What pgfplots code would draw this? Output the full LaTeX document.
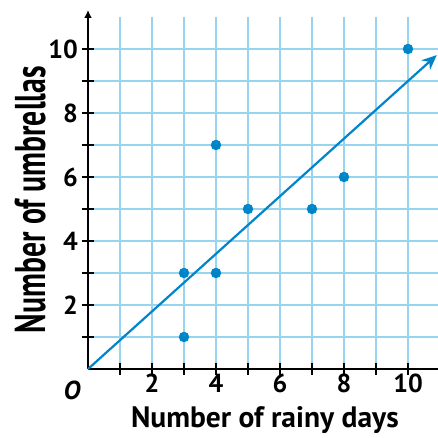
\documentclass[border=0pt]{standalone}
\usepackage{fontspec}
\setmainfont{PT Sans}
\usepackage{graphicx}
\usepackage{pgfplots}
\pgfplotsset{compat=1.18}
\usetikzlibrary{arrows.meta}
\definecolor{gridblue}{RGB}{150,212,240}
\definecolor{ptblue}{RGB}{0,133,202}
\begin{document}
\begin{tikzpicture}
\begin{axis}[
  x=32pt, y=32pt,
  xmin=0, xmax=10.95, ymin=0, ymax=11,
  axis x line*=bottom, axis y line*=left,
  x axis line style={-, line width=2pt},
  y axis line style={-{Latex[length=8pt,width=8pt]}, line width=2pt, shorten >=-7pt},
  xtick={1,...,10}, ytick={1,...,10},
  xticklabels={,2,,4,,6,,8,,10},
  yticklabels={,2,,4,,6,,8,,10},
  grid=major, major grid style={gridblue, line width=1.3pt},
  tick align=center, major tick length=12pt,
  tick style={black, line width=1.3pt},
  /pgf/number format/assume math mode=true,
  xticklabel style={font=\fontsize{26}{26}\selectfont\bfseries, inner sep=0pt, text height=0.68em, text depth=0pt, yshift=-10pt},
  yticklabel style={font=\fontsize{26}{26}\selectfont\bfseries, inner sep=1pt, xshift=-3pt},
  xlabel={Number of rainy days},
  ylabel={\scalebox{1}[1.45]{Number of umbrellas}},
  xlabel style={font=\fontsize{29.5}{29.5}\selectfont\bfseries, at={(axis description cs:0.505,-0.166)}, anchor=base, inner sep=0pt},
  ylabel style={font=\fontsize{29.7}{29.7}\selectfont\bfseries, at={(axis description cs:-0.1653,0.481)}, anchor=center, inner sep=0pt},
  clip=false,
]
\addplot[ptblue, line width=2.2pt, -{Stealth[length=15pt,width=13pt]}] coordinates {(0,0) (10.9,9.81)};
\addplot[only marks, mark=*, mark size=5pt, color=ptblue] coordinates {
  (3,3) (3,1) (4,3) (4,7) (5,5) (7,5) (8,6) (10,10)
};
\node[font=\fontsize{26}{26}\selectfont\bfseries\itshape] at (axis cs:-0.5,-0.66) {O};
\coordinate (org) at (axis cs:0,0);
\end{axis}
\pgfresetboundingbox
\path[use as bounding box] ([shift={(-88pt,-68pt)}]org) rectangle ([shift={(350pt,369pt)}]org);
\end{tikzpicture}
\end{document}
